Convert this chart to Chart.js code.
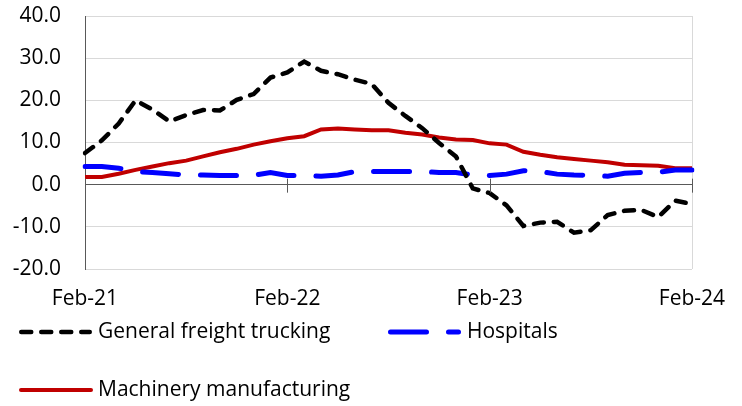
<!DOCTYPE html>
<html lang="en">
<head>
  <meta charset="UTF-8">
  <title>Employment change by industry</title>
  <style>
    html, body { margin: 0; padding: 0; background: #fff; }
    #chartCanvas { display: block; }
  </style>
  <script src="https://cdn.jsdelivr.net/npm/chart.js"></script>
</head>
<body>
  <canvas id="chartCanvas" width="742" height="406"></canvas>

  <script>
    // monthly observations, Feb-21 .. Feb-24
    const months = [
      "Feb-21", "Mar-21", "Apr-21", "May-21", "Jun-21", "Jul-21", "Aug-21", "Sep-21", "Oct-21", "Nov-21", "Dec-21", "Jan-22",
      "Feb-22", "Mar-22", "Apr-22", "May-22", "Jun-22", "Jul-22", "Aug-22", "Sep-22", "Oct-22", "Nov-22", "Dec-22", "Jan-23",
      "Feb-23", "Mar-23", "Apr-23", "May-23", "Jun-23", "Jul-23", "Aug-23", "Sep-23", "Oct-23", "Nov-23", "Dec-23", "Jan-24",
      "Feb-24"
    ];
    const tickLabels = ["Feb-21", "Feb-22", "Feb-23", "Feb-24"];

    const trucking = [7.5, 10.5, 14.5, 20.0, 17.8, 15.0, 16.5, 17.7, 17.6, 20.1, 21.5, 25.4,
                      26.6, 29.2, 27.0, 26.2, 24.9, 23.9, 19.4, 16.3, 13.4, 9.9, 6.7, -0.9,
                      -2.0, -4.9, -9.8, -9.0, -8.8, -11.4, -10.8, -7.2, -6.2, -6.0, -7.7, -3.8,
                      -4.6];
    const hospitals = [4.3, 4.3, 3.9, 3.1, 2.9, 2.6, 2.3, 2.3, 2.2, 2.2, 2.2, 2.9,
                       2.2, 2.2, 2.0, 2.3, 3.1, 3.1, 3.1, 3.1, 3.1, 2.9, 2.9, 2.3,
                       2.2, 2.5, 3.3, 3.1, 2.5, 2.3, 2.2, 2.0, 2.7, 2.9, 2.9, 3.5,
                       3.5];
    const machinery = [1.8, 1.8, 2.6, 3.5, 4.3, 5.1, 5.7, 6.7, 7.7, 8.5, 9.5, 10.3,
                       11.0, 11.5, 13.1, 13.3, 13.1, 12.9, 12.9, 12.3, 11.9, 11.2, 10.7, 10.6,
                       9.8, 9.5, 7.8, 7.1, 6.5, 6.1, 5.7, 5.3, 4.7, 4.6, 4.5, 3.9,
                       3.9];

    const FONT = "'Open Sans', sans-serif";
    const FONT_SIZE = 21;
    const AXIS_DARK = "#595959";
    const GRID = "#d9d9d9";

    // tick marks crossing the zero line at each labelled month
    const zeroTicks = {
      id: "zeroTicks",
      afterDatasetsDraw(chart) {
        const ctx = chart.ctx;
        const x = chart.scales.x, y = chart.scales.y;
        const y0 = y.getPixelForValue(0);
        ctx.save();
        ctx.strokeStyle = AXIS_DARK;
        ctx.lineWidth = 1;
        tickLabels.forEach(lbl => {
          const px = Math.round(x.getPixelForValue(months.indexOf(lbl))) + 0.5;
          ctx.beginPath();
          ctx.moveTo(px, y0 - 6);
          ctx.lineTo(px, y0 + 8);
          ctx.stroke();
        });
        ctx.restore();
      }
    };

    // legend laid out in two rows below the axis
    const legendRows = {
      id: "legendRows",
      afterDraw(chart) {
        const ctx = chart.ctx;
        const spots = [
          { x1: 19, x2: 92, tx: 98, y: 332 },
          { x1: 388, x2: 461, tx: 467, y: 332 },
          { x1: 19, x2: 93, tx: 98, y: 390 }
        ];
        ctx.save();
        chart.data.datasets.forEach((ds, i) => {
          const s = spots[i];
          ctx.beginPath();
          ctx.strokeStyle = ds.borderColor;
          ctx.lineWidth = ds.borderWidth;
          ctx.lineCap = "round";
          ctx.setLineDash(ds.borderDash || []);
          ctx.moveTo(s.x1 + ds.borderWidth / 2, s.y);
          ctx.lineTo(s.x2 - ds.borderWidth / 2, s.y);
          ctx.stroke();
          ctx.setLineDash([]);
          ctx.fillStyle = "#000";
          ctx.font = FONT_SIZE + "px " + FONT;
          ctx.textBaseline = "middle";
          ctx.textAlign = "left";
          ctx.fillText(ds.label, s.tx, s.y);
        });
        ctx.restore();
      }
    };

    new Chart(document.getElementById("chartCanvas"), {
      type: "line",
      data: {
        labels: months,
        datasets: [
          {
            label: "General freight trucking",
            data: trucking,
            borderColor: "#000000",
            borderWidth: 4.5,
            borderDash: [10, 10],
            borderCapStyle: "round",
            pointRadius: 0,
            tension: 0
          },
          {
            label: "Hospitals",
            data: hospitals,
            borderColor: "#0000ff",
            borderWidth: 5,
            borderDash: [36, 22],
            borderCapStyle: "round",
            pointRadius: 0,
            tension: 0
          },
          {
            label: "Machinery manufacturing",
            data: machinery,
            borderColor: "#c00000",
            borderWidth: 4,
            pointRadius: 0,
            tension: 0
          }
        ]
      },
      options: {
        responsive: false,
        animation: false,
        devicePixelRatio: 1,
        layout: { padding: { top: 16, right: 50, bottom: 92, left: 0 } },
        plugins: {
          legend: { display: false },
          tooltip: { enabled: false }
        },
        scales: {
          x: {
            offset: false,
            afterFit(scale) {
              scale.height = 45;
              scale.paddingLeft = 0;
              scale.paddingRight = 0;
            },
            border: { display: false },
            grid: {
              drawTicks: false,
              color: ctx => ctx.index === months.length - 1 ? GRID : "rgba(0,0,0,0)"
            },
            ticks: {
              autoSkip: false,
              maxRotation: 0,
              padding: 17,
              color: "#000",
              font: { family: FONT, size: FONT_SIZE },
              callback(value) {
                const lbl = months[value];
                return tickLabels.includes(lbl) ? lbl : "";
              }
            }
          },
          y: {
            min: -20,
            max: 40,
            afterFit(scale) {
              scale.width = 85;
              scale.paddingTop = 0;
              scale.paddingBottom = 0;
            },
            border: { display: true, color: AXIS_DARK, width: 1 },
            grid: {
              drawTicks: false,
              color: ctx => ctx.tick.value === 0 ? AXIS_DARK : GRID
            },
            ticks: {
              stepSize: 10,
              padding: 24,
              color: "#000",
              font: { family: FONT, size: FONT_SIZE },
              callback: v => v.toFixed(1)
            }
          }
        }
      },
      plugins: [zeroTicks, legendRows]
    });
  </script>
</body>
</html>
